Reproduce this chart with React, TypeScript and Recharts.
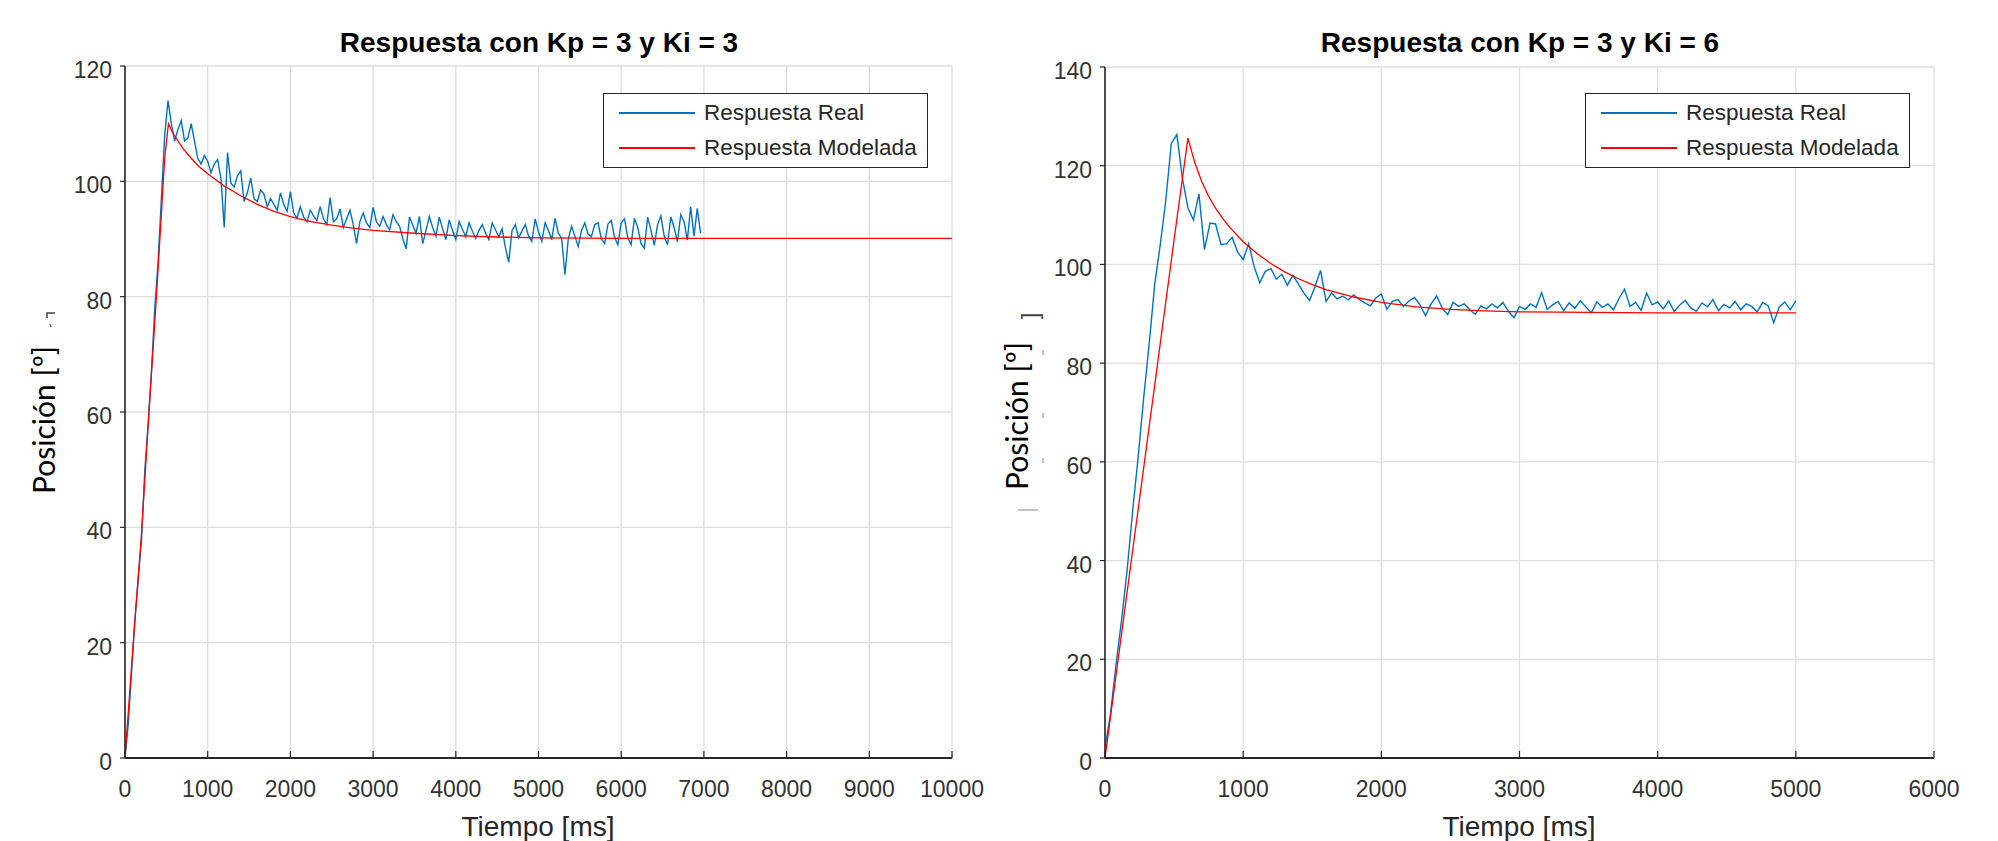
import { LineChart, Line, XAxis, YAxis, CartesianGrid } from 'recharts'

const FONT = '"Liberation Sans", Arial, Helvetica, sans-serif'
const LABEL_FONT = 'Lato, "Open Sans", sans-serif'
const AXIS = '#262626'
const TICK_TEXT = '#333333'
const GRID = '#dedede'
const BLUE = '#0072BD'
const RED = '#FF0000'

// measured response is sampled every 40 ms
const SAMPLE_MS = 40

// ---- Kp = 3, Ki = 3 ----
const X_TICKS_1 = [0, 1000, 2000, 3000, 4000, 5000, 6000, 7000, 8000, 9000, 10000]
const Y_TICKS_1 = [0, 20, 40, 60, 80, 100, 120]

const REAL_1 = [
  0, 6, 15, 24, 31, 38, 50, 58, 67, 78,
  86, 97, 108, 114, 110, 107, 109, 110.5, 107, 107.5,
  110, 107, 104, 103, 104.5, 103.5, 101.5, 103, 103.8, 100.5,
  92, 105, 99.7, 99, 101, 101.8, 96.5, 98, 100.6, 97,
  96.5, 98.5, 97.8, 95.6, 97, 96, 95, 98, 96, 94.8,
  98.2, 94.5, 93.6, 95.6, 93.8, 93, 95, 94, 93.2, 95.6,
  93.5, 92.5, 97.2, 93, 93.5, 95.2, 92, 93.5, 95, 92.5,
  89.2, 93, 94.5, 92.8, 92, 95.5, 93, 92.2, 93.9, 92.5,
  91.6, 94.2, 93, 92.2, 90, 88.3, 93.8, 92.4, 91, 93.9,
  89.2, 91.5, 93.9, 92, 90.5, 93.8, 91.8, 89.9, 93.3, 91.5,
  89.9, 93, 91.7, 90.4, 92.8, 91.4, 90.1, 91.5, 92.5, 91,
  89.9, 92.8, 91.6, 90.4, 91.8, 88.5, 86, 91.5, 92.5, 90.2,
  91.4, 92.5, 90.5, 89.6, 93.5, 91.2, 89.6, 92.8, 91.5, 89.9,
  93.6, 91, 90.1, 83.8, 90, 92.2, 90.5, 88.7, 91.5, 92.8,
  90.8, 90.4, 92.5, 92.8, 90, 89.2, 92.6, 93.2, 90.3, 89,
  92.8, 93.5, 90.2, 89, 93.6, 92, 89.2, 88.4, 93.8, 91.5,
  88.9, 92.5, 94, 90.5, 89, 93.8, 92, 89.5, 94.2, 93,
  89.8, 95.6, 90.5, 95.3, 91,
]

const MODEL_1_T = [
  0, 100, 200, 290, 380, 430, 480, 525, 560, 600, 700, 800, 900, 1000, 1200, 1400,
  1600, 1800, 2000, 2250, 2500, 2750, 3000, 3500, 4000, 4500, 5000, 6000, 7000,
  8000, 9000, 10000,
]
const MODEL_1_V = [
  0, 20, 39, 60, 80, 92, 104, 110, 108.9, 107.9, 105.7, 104, 102.5, 101.3, 99.2, 97.5,
  96, 94.8, 93.9, 93, 92.4, 91.9, 91.5, 91, 90.6, 90.35, 90.2, 90.1, 90.1,
  90.1, 90.1, 90.1,
]

// ---- Kp = 3, Ki = 6 ----
const X_TICKS_2 = [0, 1000, 2000, 3000, 4000, 5000, 6000]
const Y_TICKS_2 = [0, 20, 40, 60, 80, 100, 120, 140]

const REAL_2 = [
  2, 9, 19, 28, 38, 50, 61, 73, 84, 96,
  104, 113, 124.5, 126.3, 117.5, 111.5, 109, 114.3, 103, 108.4,
  108.2, 104, 104.2, 105.5, 102.5, 101, 104.2, 99.5, 96.3, 98.6,
  99.2, 97, 98, 95.8, 97.8, 96, 94.2, 92.7, 95.5, 98.8,
  92.5, 94.2, 93, 93.6, 92.8, 93.8, 92.9, 92.2, 91.6, 93.2,
  94, 90.9, 92.5, 92.9, 91.5, 92.6, 93.3, 91.8, 89.6, 92,
  93.6, 91.2, 89.8, 92.3, 91.5, 92, 90.8, 89.9, 91.6, 91,
  92, 91.2, 92.3, 90.5, 89.2, 91.5, 90.9, 92, 91.3, 94.3,
  90.9, 91.8, 92.5, 90.6, 92.2, 91.1, 92.6, 91.4, 90.2, 92.4,
  91.3, 92, 90.8, 93.1, 95, 91.5, 92.3, 90.7, 94.2, 91.8,
  92.4, 91, 92.6, 90.4, 91.8, 92.7, 91.2, 90.5, 92.2, 91.4,
  92.9, 90.6, 91.9, 91.2, 92.5, 90.8, 92, 91.5, 90.4, 92.3,
  91.6, 88.2, 91.4, 92.4, 90.8, 92.6,
]

const MODEL_2_T = [
  0, 100, 200, 300, 400, 500, 600, 650, 700, 750, 800, 850, 900, 1000, 1100,
  1200, 1300, 1400, 1500, 1600, 1800, 2000, 2250, 2500, 2750, 3000, 3500, 4000,
  4500, 5000,
]
const MODEL_2_V = [
  0, 21, 42, 63, 84, 105, 125.6, 120.6, 116.8, 113.8, 111.4, 109.4, 107.6,
  104.6, 102.2, 100.2, 98.5, 97.1, 95.9, 94.9, 93.4, 92.3, 91.4, 90.9, 90.6,
  90.4, 90.3, 90.2, 90.2, 90.2,
]

type Pt = { t: number; v: number }

const toSamples = (vals: number[]): Pt[] => vals.map((v, i) => ({ t: i * SAMPLE_MS, v }))
const toPairs = (ts: number[], vs: number[]): Pt[] => ts.map((t, i) => ({ t, v: vs[i] }))

const XTick = (props: any) => {
  const { x, y, payload } = props
  return (
    <g>
      <line x1={x} x2={x} y1={y} y2={y - 7} stroke={AXIS} strokeWidth={1.2} />
      <text
        x={x}
        y={y + 39}
        textAnchor='middle'
        fontFamily={FONT}
        fontSize={23}
        fill={TICK_TEXT}
      >
        {payload.value}
      </text>
    </g>
  )
}

const YTick = (props: any) => {
  const { x, y, payload } = props
  return (
    <g>
      <line x1={x} x2={x - 5} y1={y} y2={y} stroke={AXIS} strokeWidth={1.2} />
      <text
        x={x - 13}
        y={y + 12}
        textAnchor='end'
        fontFamily={FONT}
        fontSize={23}
        fill={TICK_TEXT}
      >
        {payload.value}
      </text>
    </g>
  )
}

interface PanelProps {
  left: number
  width: number
  margin: { top: number; right: number; bottom: number; left: number }
  xTicks: number[]
  yTicks: number[]
  real: Pt[]
  model: Pt[]
}

function Panel({ left, width, margin, xTicks, yTicks, real, model }: PanelProps) {
  return (
    <div style={{ position: 'absolute', left, top: 0 }}>
      <LineChart width={width} height={841} margin={margin}>
        <CartesianGrid stroke={GRID} strokeWidth={1.3} />
        <XAxis
          type='number'
          dataKey='t'
          domain={[xTicks[0], xTicks[xTicks.length - 1]]}
          ticks={xTicks}
          interval={0}
          height={40}
          tickSize={0}
          tickMargin={0}
          tickLine={false}
          axisLine={{ stroke: AXIS, strokeWidth: 2 }}
          tick={(p: any) => <XTick {...p} />}
          allowDataOverflow
        />
        <YAxis
          type='number'
          dataKey='v'
          domain={[yTicks[0], yTicks[yTicks.length - 1]]}
          ticks={yTicks}
          interval={0}
          width={60}
          tickSize={0}
          tickMargin={0}
          tickLine={false}
          axisLine={{ stroke: AXIS, strokeWidth: 1.6 }}
          tick={(p: any) => <YTick {...p} />}
          allowDataOverflow
        />
        <Line
          data={real}
          dataKey='v'
          type='linear'
          stroke={BLUE}
          strokeWidth={1.4}
          dot={false}
          activeDot={false}
          isAnimationActive={false}
        />
        <Line
          data={model}
          dataKey='v'
          type='linear'
          stroke={RED}
          strokeWidth={1.3}
          dot={false}
          activeDot={false}
          isAnimationActive={false}
        />
      </LineChart>
    </div>
  )
}

function LegendBox({ left, top }: { left: number; top: number }) {
  const row = (color: string, y: number, label: string, lw: number) => (
    <>
      <div
        style={{
          position: 'absolute',
          left: 15,
          top: y - lw / 2,
          width: 76,
          height: lw,
          background: color,
        }}
      />
      <div
        style={{
          position: 'absolute',
          left: 100,
          top: y - 13,
          height: 26,
          lineHeight: '26px',
          whiteSpace: 'nowrap',
        }}
      >
        {label}
      </div>
    </>
  )
  return (
    <div
      style={{
        position: 'absolute',
        left,
        top,
        width: 325,
        height: 75,
        boxSizing: 'border-box',
        border: `1.5px solid ${AXIS}`,
        background: '#fff',
        fontFamily: FONT,
        fontSize: 22.5,
        color: '#262626',
      }}
    >
      {row(BLUE, 19, 'Respuesta Real', 2)}
      {row(RED, 54, 'Respuesta Modelada', 1.6)}
    </div>
  )
}

export default function App() {
  const real1 = toSamples(REAL_1)
  const model1 = toPairs(MODEL_1_T, MODEL_1_V)
  const real2 = toSamples(REAL_2)
  const model2 = toPairs(MODEL_2_T, MODEL_2_V)

  return (
    <div
      style={{
        position: 'absolute',
        left: 0,
        top: 0,
        width: 1998,
        height: 841,
        background: '#fff',
        overflow: 'hidden',
      }}
    >
      <Panel
        left={0}
        width={1000}
        margin={{ top: 66, right: 48, bottom: 43, left: 65 }}
        xTicks={X_TICKS_1}
        yTicks={Y_TICKS_1}
        real={real1}
        model={model1}
      />
      <Panel
        left={1000}
        width={990}
        margin={{ top: 67, right: 56, bottom: 43, left: 45 }}
        xTicks={X_TICKS_2}
        yTicks={Y_TICKS_2}
        real={real2}
        model={model2}
      />

      <svg
        width={1998}
        height={841}
        style={{ position: 'absolute', left: 0, top: 0, pointerEvents: 'none' }}
      >
        <text x={539} y={52} textAnchor='middle' fontFamily={FONT} fontWeight='bold' fontSize={28} fill='#000'>
          Respuesta con Kp = 3 y Ki = 3
        </text>
        <text x={1520} y={52} textAnchor='middle' fontFamily={FONT} fontWeight='bold' fontSize={28} fill='#000'>
          Respuesta con Kp = 3 y Ki = 6
        </text>

        <text x={538} y={836} textAnchor='middle' fontFamily={FONT} fontSize={28} fill={AXIS}>
          Tiempo [ms]
        </text>
        <text x={1519} y={836} textAnchor='middle' fontFamily={FONT} fontSize={28} fill={AXIS}>
          Tiempo [ms]
        </text>

        <text transform='translate(55,420) rotate(-90)' textAnchor='middle' fontFamily={LABEL_FONT} fontSize={30} fill='#000'>
          Posición [º]
        </text>
        <text transform='translate(1028,416) rotate(-90)' textAnchor='middle' fontFamily={LABEL_FONT} fontSize={30} fill='#000'>
          Posición [º]
        </text>

        {/* leftovers of the original axis labels */}
        <path d='M47,318 L47,313 L55,313' fill='none' stroke='#444' strokeWidth={1.5} />
        <line x1={50} x2={51} y1={324} y2={327} stroke='#666' strokeWidth={1.5} />
        <text transform='translate(1038,316) rotate(-90)' textAnchor='middle' fontFamily={FONT} fontSize={24} fill='#444'>
          ]
        </text>
        <line x1={1043} x2={1043} y1={350} y2={355} stroke='#888' strokeWidth={1} />
        <line x1={1043} x2={1043} y1={413} y2={418} stroke='#888' strokeWidth={1} />
        <line x1={1043} x2={1043} y1={458} y2={463} stroke='#888' strokeWidth={1} />
        <line x1={1018} x2={1038} y1={510} y2={510} stroke='#888' strokeWidth={1} />
      </svg>

      <LegendBox left={603} top={93} />
      <LegendBox left={1585} top={93} />
    </div>
  )
}
